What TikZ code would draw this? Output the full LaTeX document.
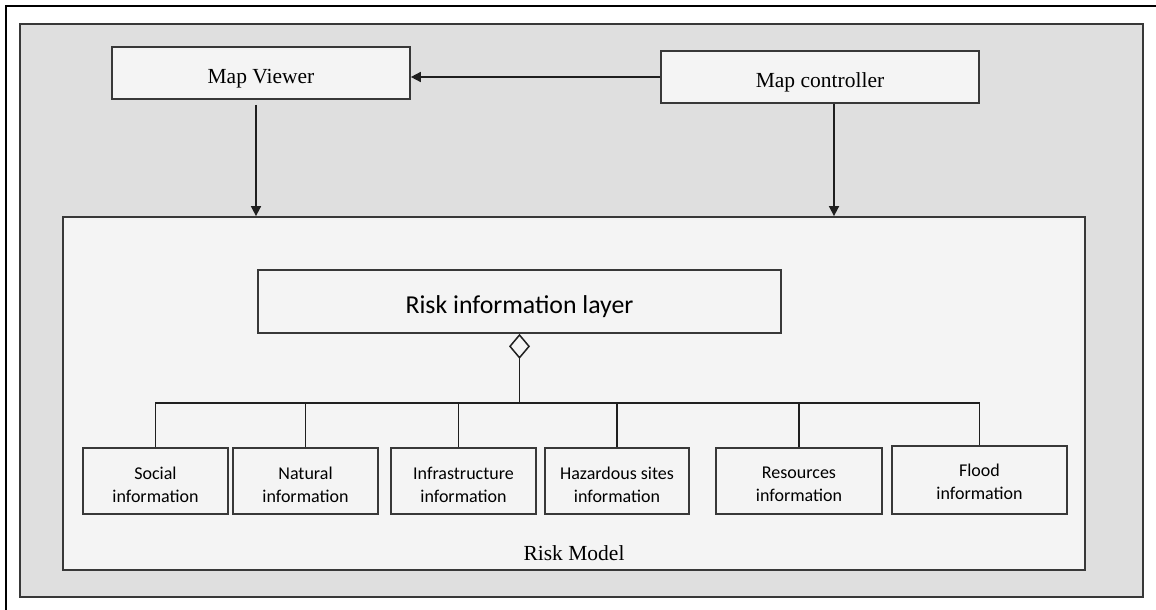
\documentclass[tikz,border=0pt]{standalone}
\usepackage{fontspec}
\setmainfont{Liberation Serif}
\newfontfamily\calibri{Carlito}
\usetikzlibrary{arrows.meta}
\definecolor{panelgray}{HTML}{DFDFDF}
\definecolor{boxfill}{HTML}{F4F4F4}
\definecolor{edgegray}{HTML}{383838}
\begin{document}
\begin{tikzpicture}[x=1pt,y=-1pt,
  topbox/.style={draw=edgegray, line width=1.7pt, fill=boxfill,
    font=\fontsize{21.5}{26}\selectfont, inner sep=0pt,
    text height=22pt, text depth=0pt},
  leafbox/.style={draw=edgegray, line width=1.7pt, fill=boxfill,
    inner sep=0pt, minimum height=66pt},
  leaftext/.style={font=\calibri\fontsize{18}{23}\selectfont, align=center,
    inner sep=0pt},
  link/.style={line width=1.7pt, draw=black!88},
  flow/.style={link, -{Triangle[length=10pt,width=10pt]}}]

\useasboundingbox (0,0) rectangle (1156,610);
\clip (0,0) rectangle (1156,610);

% outer frame and grey panel
\draw[line width=2pt] (6,6) rectangle (1200,650);
\node[draw=edgegray, fill=panelgray, line width=1.8pt, inner sep=0pt,
      minimum width=1123pt, minimum height=573pt] (panel) at (581.5,310.5) {};

% top components
\node[topbox, minimum width=298pt, minimum height=52pt] (viewer) at (261,73) {Map Viewer};
\node[topbox, minimum width=318pt, minimum height=52pt] (controller) at (820,77) {Map controller};

% risk model container
\node[draw=edgegray, fill=boxfill, line width=1.8pt, inner sep=0pt,
      minimum width=1022pt, minimum height=353pt] (model) at (574,393.5) {};
\node[font=\fontsize{21.5}{26}\selectfont, inner sep=0pt] (modellabel) at (574,553) {Risk Model};

% layer and its parts
\node[draw=edgegray, fill=boxfill, line width=1.7pt, inner sep=0pt,
      minimum width=523pt, minimum height=63pt,
      text height=23pt, text depth=0pt,
      font=\calibri\fontsize{25.8}{30}\selectfont] (layer) at (519.5,301.5) {Risk information layer};

\node[leafbox, minimum width=145pt] (social) at (155.5,481) {};
\node[leafbox, minimum width=145pt] (natural) at (305.5,481) {};
\node[leafbox, minimum width=145pt] (infra) at (463.5,481) {};
\node[leafbox, minimum width=144pt] (hazard) at (617,481) {};
\node[leafbox, minimum width=166pt] (resources) at (799,481) {};
\node[leafbox, minimum width=175pt, minimum height=68pt] (flood) at (979.5,480) {};

\node[leaftext] (socialtext) at ([yshift=-3.5pt]social.center) {Social\\information};
\node[leaftext] (naturaltext) at ([yshift=-3.5pt]natural.center) {Natural\\information};
\node[leaftext] (infratext) at ([yshift=-3.5pt]infra.center) {Infrastructure\\information};
\node[leaftext] (hazardtext) at ([yshift=-3.5pt]hazard.center) {Hazardous sites\\information};
\node[leaftext] (resourcestext) at ([yshift=-3.5pt]resources.center) {Resources\\information};
\node[leaftext] (floodtext) at ([yshift=-1.5pt]flood.center) {Flood\\information};

% connectors between the top components and the model
\coordinate (vdrop) at (256,0);
\coordinate (cdrop) at (834,0);
\draw[flow] (controller.west) -- (controller.west -| viewer.east);
\draw[flow, shorten <=5pt] (viewer.south -| vdrop) -- (model.north -| vdrop);
\draw[flow] (controller.south -| cdrop) -- (model.north -| cdrop);

% aggregation tree
\coordinate (hub) at (519.5,403);
\draw[link, -{Diamond[open, length=25pt, width=21pt, line width=1.5pt]}] (hub) -- (layer.south);
\draw[link] (social.north) |- (hub) -| (flood.north);
\draw[link] (natural.north) -- (natural.north |- hub);
\draw[link] ([xshift=-5pt]infra.north) -- ([xshift=-5pt]infra.north |- hub);
\draw[link] (hazard.north) -- (hazard.north |- hub);
\draw[link] (resources.north) -- (resources.north |- hub);
\end{tikzpicture}
\end{document}
